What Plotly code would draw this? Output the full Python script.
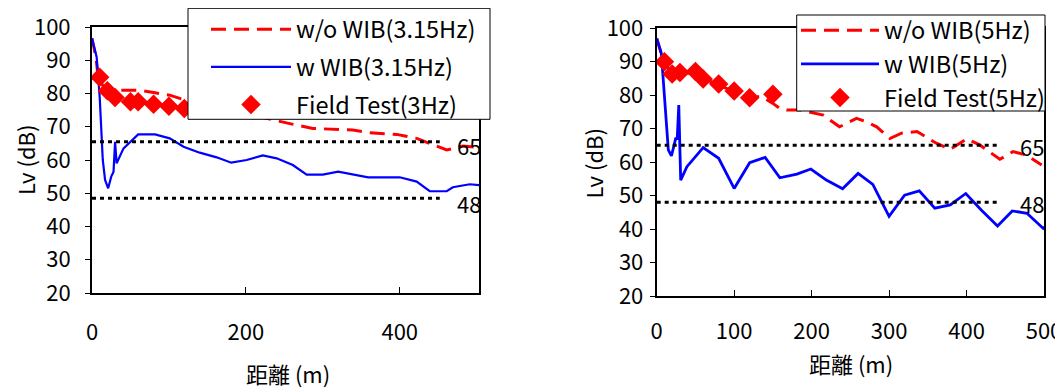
import plotly.graph_objects as go

# ---------------- data: left chart (3.15 Hz) ----------------
dist_wo_3 = [0, 5, 8, 15, 23, 40, 60, 80, 101, 121, 140, 160, 180, 200, 220, 235, 260, 287, 310, 339, 361, 396, 422, 443, 461, 482, 504]
lv_wo_3 = [96.6, 91, 85, 82, 81, 81, 81, 80.3, 79.5, 78, 77, 76, 75, 74, 73, 72, 70.8, 69.5, 69.2, 69, 68.2, 67.7, 66.5, 64.5, 63, 64.2, 63.8]

dist_w_3 = [0, 6, 10, 14, 17, 21, 25, 28, 30, 32, 41, 60, 82, 101, 119, 140, 162, 181, 201, 222, 240, 261, 279, 300, 320, 359, 400, 422, 439, 461, 469, 491, 510]
lv_w_3 = [96.6, 91, 79, 60, 54, 51.5, 55, 56.5, 65.5, 59, 63.5, 67.7, 67.7, 66.5, 64, 62.2, 60.8, 59.2, 60, 61.4, 60.5, 58.5, 55.6, 55.6, 56.5, 54.8, 54.8, 53.5, 50.6, 50.6, 51.8, 52.7, 52.3]

dist_field_3 = [10, 20, 30, 50, 60, 80, 100, 120]
lv_field_3 = [84.9, 80.8, 78.8, 77.5, 77.5, 76.8, 76.2, 75.5]

limits_3 = [65.5, 48.5]
limit_end_3 = 452

# ---------------- data: right chart (5 Hz) ----------------
dist_wo_5 = [0, 9, 18, 29, 49, 60, 80, 100, 120, 136, 150, 159, 168, 185, 215, 236, 258, 271, 284, 301, 316, 336, 361, 379, 400, 417, 443, 460, 477, 497]
lv_wo_5 = [96.9, 90, 87, 86.5, 86.5, 85, 83, 81, 79.5, 79.5, 77.5, 76, 75.5, 75.5, 74, 70.5, 73, 72, 70.5, 67, 68.6, 69.1, 65.6, 63.8, 66.9, 65.1, 60.8, 63.1, 62.1, 59.1]

dist_w_5 = [0, 6, 15, 19, 24.5, 26.5, 28.5, 31, 39, 60, 80, 100, 120, 140, 159, 181, 199, 219, 240, 260, 279, 300, 320, 339, 359, 379, 399, 419, 440, 459, 478, 499, 510]
lv_w_5 = [96.9, 92.4, 63.6, 61.8, 67, 67, 77, 54.6, 58.6, 64.3, 61.1, 52.1, 59.8, 61.4, 55.3, 56.4, 57.9, 54.6, 52, 56.6, 53.3, 43.8, 50.1, 51.4, 46.2, 47.2, 50.6, 45.7, 40.9, 45.4, 44.7, 40.2, 42.5]

dist_field_5 = [10, 20, 30, 50, 60, 80, 100, 120, 150]
lv_field_5 = [89.9, 86.3, 86.7, 87, 84.8, 83.3, 81.2, 79.2, 80.2]

limits_5 = [65, 48]
limit_end_5 = 444

limit_labels = ["65", "48"]
x_title = "距離 (m)"
y_title = "Lv (dB)"

FONT = "Noto Sans CJK JP"
RED = "#FF0000"
BLUE = "#0000FF"

# page has an 8px body margin: build the figure in page pixels shifted by it
OFF = 8
W, H = 1063 - OFF, 389 - OFF


def fx(p):
    return (p - OFF) / W


def fy(p):
    return 1 - (p - OFF) / H


fig = go.Figure()


def add_panel(xa, ya, leg, dwo, lwo, dw, lw, df, lf, names, limits, lim_end, gp, bw):
    fig.add_trace(go.Scatter(x=dwo, y=lwo, mode="lines", name=names[0],
                             line=dict(color=RED, width=3, dash="15px,8px"),
                             xaxis=xa, yaxis=ya, legend=leg, legendgroup=gp + "a"))
    fig.add_trace(go.Scatter(x=dw, y=lw, mode="lines", name=names[1],
                             line=dict(color=BLUE, width=bw),
                             xaxis=xa, yaxis=ya, legend=leg, legendgroup=gp + "b"))
    fig.add_trace(go.Scatter(x=df, y=lf, mode="markers", name=names[2],
                             marker=dict(symbol="diamond", color=RED, size=15),
                             xaxis=xa, yaxis=ya, legend=leg, legendgroup=gp + "c"))
    for v in limits:
        fig.add_trace(go.Scatter(x=[0, lim_end], y=[v, v], mode="lines",
                                 line=dict(color="black", width=3, dash="4px,4px"),
                                 showlegend=False, hoverinfo="skip",
                                 xaxis=xa, yaxis=ya))


add_panel("x", "y", "legend", dist_wo_3, lv_wo_3, dist_w_3, lv_w_3, dist_field_3, lv_field_3,
          ["w/o WIB(3.15Hz)", "w WIB(3.15Hz)", "Field Test(3Hz)"], limits_3, limit_end_3, "L", 2.2)
add_panel("x2", "y2", "legend2", dist_wo_5, lv_wo_5, dist_w_5, lv_w_5, dist_field_5, lv_field_5,
          ["w/o WIB(5Hz)", "w WIB(5Hz)", "Field Test(5Hz)"], limits_5, limit_end_5, "R", 2.8)

# limit labels at the end of the dotted lines
for (xr, yr, xpos, limits, offs) in [("x", "y", 489.6, limits_3, [-1.05, -1.45]),
                                      ("x2", "y2", 484.3, limits_5, [-0.2, -0.2])]:
    for v, t, o in zip(limits, limit_labels, offs):
        fig.add_annotation(x=xpos, y=v + o, xref=xr, yref=yr, text=t, showarrow=False,
                           font=dict(family=FONT, size=22, color="black"))

# axis titles
for (px, py, ang, t) in [(287.5, 373, 0, x_title), (851, 363, 0, x_title),
                         (25, 160, -90, y_title), (592, 163.5, -90, y_title)]:
    fig.add_annotation(x=fx(px), y=fy(py), xref="paper", yref="paper", text=t,
                       showarrow=False, textangle=ang, xanchor="center", yanchor="middle",
                       font=dict(family=FONT, size=22, color="black"))

# opaque legend boxes
for (x0, y0, x1, y1) in [(188, 8.3, 490, 119.3), (796.7, 15, 1045, 111)]:
    fig.add_shape(type="rect", xref="paper", yref="paper",
                  x0=fx(x0), x1=fx(x1), y0=fy(y1), y1=fy(y0),
                  fillcolor="white", line=dict(color="black", width=1), layer="above")

axis_common = dict(showline=True, linecolor="black", linewidth=2, mirror=True,
                   showgrid=False, zeroline=False, automargin=False,
                   tickfont=dict(family=FONT, size=22, color="black"))

fig.update_layout(
    width=W, height=H,
    margin=dict(l=0, r=0, t=0, b=0, autoexpand=False),
    paper_bgcolor="white", plot_bgcolor="white",
    font=dict(family=FONT, size=22, color="black"),
    xaxis=dict(domain=[fx(92), fx(479)], range=[0, 503], tickvals=[0, 200, 400],
               ticks="inside", ticklen=6, tickcolor="black", ticklabelstandoff=19,
               anchor="y", **axis_common),
    yaxis=dict(domain=[fy(293), fy(27)], range=[20, 100], dtick=10,
               ticks="outside", ticklen=5, tickcolor="black", ticklabelstandoff=10,
               anchor="x", **axis_common),
    xaxis2=dict(domain=[fx(656.7), fx(1044)], range=[0, 500], dtick=100,
                ticks="inside", ticklen=6, tickcolor="black", ticklabelstandoff=15,
                anchor="y2", **axis_common),
    yaxis2=dict(domain=[fy(296), fy(28)], range=[20, 100], dtick=10,
                ticks="outside", ticklen=5, tickcolor="black", ticklabelstandoff=2,
                anchor="x2", **axis_common),
    legend=dict(x=fx(206), y=fy(7.5), xanchor="left", yanchor="top",
                bgcolor="rgba(0,0,0,0)", borderwidth=0,
                font=dict(family=FONT, size=23.5, color="black"),
                itemwidth=80, traceorder="grouped", tracegroupgap=4),
    legend2=dict(x=fx(796), y=fy(8.5), xanchor="left", yanchor="top",
                 bgcolor="rgba(0,0,0,0)", borderwidth=0,
                 font=dict(family=FONT, size=23.5, color="black"),
                 itemwidth=78, traceorder="grouped", tracegroupgap=0),
    showlegend=True,
)

fig.write_html("out.html")
